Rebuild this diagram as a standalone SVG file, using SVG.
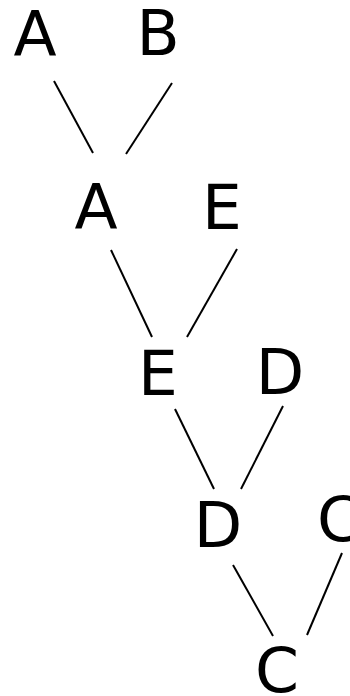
<svg xmlns="http://www.w3.org/2000/svg" width="350" height="696" viewBox="0 0 350 696">
<style>
text{font-family:"DejaVu Sans",sans-serif;font-size:63px;fill:#000;text-anchor:middle}
.e{stroke:#000;stroke-width:2;fill:none}
</style>
<rect width="350" height="696" fill="#fff"/>
<g id="connectors">
<line class="e" x1="54" y1="81" x2="93" y2="153"/>
<line class="e" x1="172" y1="83" x2="126" y2="154"/>
<line class="e" x1="111" y1="250" x2="152" y2="337"/>
<line class="e" x1="237" y1="249" x2="187" y2="337"/>
<line class="e" x1="175" y1="409" x2="214" y2="489"/>
<line class="e" x1="283" y1="406" x2="241" y2="489"/>
<line class="e" x1="233" y1="565" x2="273" y2="636"/>
<line class="e" x1="342" y1="553" x2="307" y2="635"/>
</g>
<g id="n1"><text x="35" y="56">A</text></g>
<g id="n2"><text x="158" y="55">B</text></g>
<g id="n3"><text x="96" y="229">A</text></g>
<g id="n4"><text x="222" y="229">E</text></g>
<g id="n5"><text x="158" y="395">E</text></g>
<g id="n6"><text x="280" y="394">D</text></g>
<g id="n7"><text x="218" y="547">D</text></g>
<g id="n8"><text x="339" y="541">C</text></g>
<g id="n9"><text x="277" y="692">C</text></g>
</svg>
